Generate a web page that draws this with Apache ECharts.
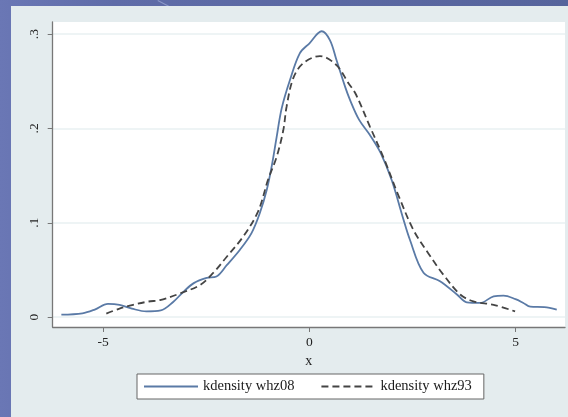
<!DOCTYPE html>
<html>
<head>
<meta charset="utf-8">
<script src="https://cdn.jsdelivr.net/npm/echarts@6/dist/echarts.min.js"></script>
<style>
  html, body { margin: 0; padding: 0; }
  body { width: 568px; height: 417px; overflow: hidden; position: relative;
         background: linear-gradient(90deg, #6a77b5 0%, #5f6ca8 20%, #56649c 100%); }
  #deco { position: absolute; left: 158px; top: 0; width: 14px; height: 1px; background: #8c98c8;
          transform-origin: 0 0; transform: rotate(28deg); }
  #chart { position: absolute; left: 11px; top: 6px; width: 557px; height: 411px; background: #e4ecee; }
</style>
</head>
<body>
<div id="deco"></div>
<div id="chart"></div>
<script>
// kdensity whz08 (solid)
const whz08X = [-6.01, -5.5, -5.2, -4.88, -4.6, -4.3, -3.95, -3.6, -3.3, -3.07, -2.8, -2.49, -2.25, -2.0, -1.68, -1.4, -1.2, -1.03, -0.91, -0.79, -0.67, -0.47, -0.23, 0.0, 0.3, 0.5, 0.66, 0.87, 0.99, 1.21, 1.47, 1.73, 2.0, 2.26, 2.44, 2.77, 3.17, 3.58, 3.82, 4.14, 4.47, 4.71, 5.0, 5.19, 5.36, 5.7, 6.0];
const whz08Y = [0.0026, 0.004, 0.008, 0.014, 0.013, 0.009, 0.006, 0.007, 0.016, 0.026, 0.036, 0.0415, 0.043, 0.055, 0.0714, 0.089, 0.110, 0.135, 0.160, 0.191, 0.221, 0.251, 0.2796, 0.290, 0.303, 0.2936, 0.2725, 0.244, 0.230, 0.209, 0.193, 0.174, 0.145, 0.107, 0.082, 0.047, 0.038, 0.024, 0.0157, 0.015, 0.022, 0.0228, 0.019, 0.015, 0.011, 0.0105, 0.008];
// kdensity whz93 (dashed)
const whz93X = [-4.92, -4.6, -4.27, -3.9, -3.62, -3.14, -2.65, -2.33, -2.0, -1.6, -1.24, -1.0, -0.79, -0.63, -0.55, -0.39, -0.15, 0.26, 0.66, 0.95, 1.12, 1.47, 1.82, 2.17, 2.53, 2.88, 3.25, 3.66, 3.98, 4.47, 4.99];
const whz93Y = [0.0037, 0.009, 0.013, 0.0165, 0.018, 0.025, 0.034, 0.0468, 0.064, 0.0855, 0.112, 0.1455, 0.170, 0.198, 0.223, 0.253, 0.269, 0.2767, 0.267, 0.248, 0.237, 0.202, 0.167, 0.128, 0.092, 0.068, 0.045, 0.024, 0.0167, 0.013, 0.006];

const xTickValues = [-5, 0, 5];
const xTickLabels = ['-5', '0', '5'];
const yTickValues = [0, 0.1, 0.2, 0.3];
const yTickLabels = ['0', '.1', '.2', '.3'];
const seriesNames = ['kdensity whz08', 'kdensity whz93'];

const zip = (xs, ys) => xs.map((x, i) => [x, ys[i]]);
const font = 'Liberation Serif, Times New Roman, serif';

const chart = echarts.init(document.getElementById('chart'), null, { renderer: 'canvas' });
chart.setOption({
  backgroundColor: 'transparent',
  animation: false,
  grid: { left: 41.7, top: 16, right: 3, bottom: 90, show: true, backgroundColor: '#ffffff', borderWidth: 0 },
  legend: {
    data: seriesNames,
    left: 126, top: 368,
    backgroundColor: '#ffffff',
    borderColor: '#666666', borderWidth: 1, borderRadius: 0,
    padding: [5, 12, 5, 6],
    itemGap: 26, itemWidth: 54, itemHeight: 14,
    itemStyle: { opacity: 0 },
    textStyle: { fontFamily: font, fontSize: 14.5, color: '#1a1a1a' }
  },
  xAxis: {
    type: 'value', min: -6.22, max: 6.2,
    name: 'x', nameLocation: 'middle', nameGap: 22,
    nameTextStyle: { fontFamily: font, fontSize: 14, color: '#222' },
    axisLine: { show: true, onZero: false, lineStyle: { color: '#777', width: 1.3 } },
    axisTick: { show: true, length: 5, customValues: xTickValues, lineStyle: { color: '#777' } },
    axisLabel: { customValues: xTickValues, margin: 8, fontFamily: font, fontSize: 13.5, color: '#222',
      formatter: v => xTickLabels[xTickValues.indexOf(v)] },
    splitLine: { show: false }
  },
  yAxis: {
    type: 'value', min: -0.0105, max: 0.3128,
    axisLine: { show: true, onZero: false, lineStyle: { color: '#777', width: 1.3 } },
    axisTick: { show: true, length: 5, customValues: yTickValues, lineStyle: { color: '#777' } },
    axisLabel: { customValues: yTickValues, rotate: 90, margin: 11, fontFamily: font, fontSize: 13.5, color: '#222',
      formatter: v => yTickLabels[yTickValues.findIndex(t => Math.abs(t - v) < 1e-9)] },
    splitLine: { show: true, lineStyle: { color: '#e8f0f2', width: 1.5 } }
  },
  series: [
    { name: seriesNames[0], type: 'line', data: zip(whz08X, whz08Y), smooth: 0.35, symbol: 'none',
      lineStyle: { color: '#5a7aa6', width: 1.8, type: 'solid' }, itemStyle: { color: '#5a7aa6' } },
    { name: seriesNames[1], type: 'line', data: zip(whz93X, whz93Y), smooth: 0.35, symbol: 'none',
      lineStyle: { color: '#444444', width: 1.8, type: [7, 4] }, itemStyle: { color: '#444444' } }
  ]
});
</script>
</body>
</html>
